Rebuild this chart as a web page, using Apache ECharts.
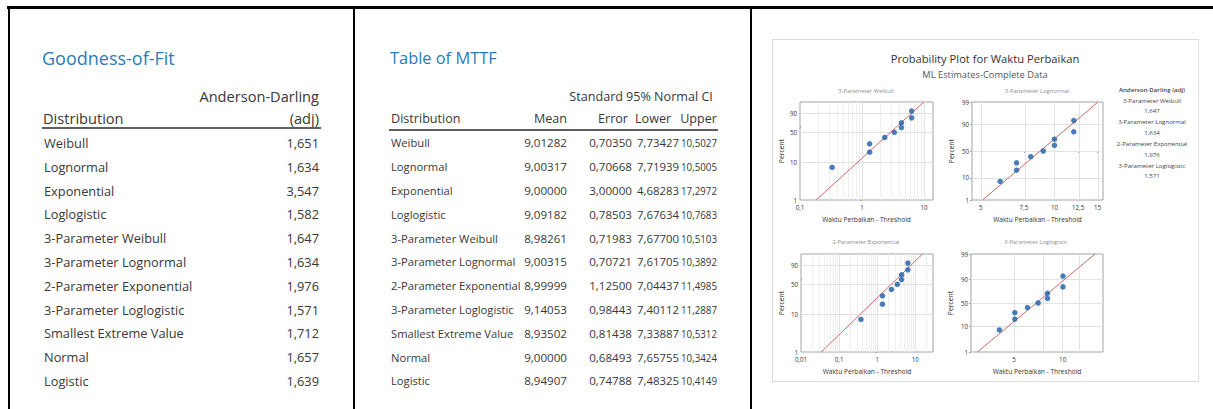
<!DOCTYPE html>
<html>
<head>
<meta charset="utf-8">
<script src="https://cdn.jsdelivr.net/npm/echarts@6/dist/echarts.min.js"></script>
<style>
  html, body { margin: 0; padding: 0; background: #fff; }
  #page { position: relative; width: 1213px; height: 409px; overflow: hidden;
          font-family: 'Open Sans', 'Noto Sans', sans-serif; color: #383838; }
  .rule { position: absolute; background: #000; }
  .uline { position: absolute; background: #5f5f5f; height: 2px; }
  .t { position: absolute; white-space: nowrap; line-height: 1; }
  #panel { position: absolute; left: 772px; top: 39px; width: 425px; height: 341px;
           border: 1px solid #dcdcdc; }
  #chart { position: absolute; left: 0; top: 0; width: 1213px; height: 409px; }
</style>
</head>
<body>
<div id="page">
  <div class="rule" style="left:7px;top:6px;width:1206px;height:2.5px"></div>
  <div class="rule" style="left:7.5px;top:6px;width:2.5px;height:403px"></div>
  <div class="rule" style="left:352.5px;top:6px;width:2.5px;height:403px"></div>
  <div class="rule" style="left:749.5px;top:6px;width:2.5px;height:403px"></div>
  <div id="panel"></div>
  <div id="chart"></div>
</div>
<script>
// ---------- Goodness-of-Fit table ----------
const distributions = ['Weibull', 'Lognormal', 'Exponential', 'Loglogistic',
  '3-Parameter Weibull', '3-Parameter Lognormal', '2-Parameter Exponential',
  '3-Parameter Loglogistic', 'Smallest Extreme Value', 'Normal', 'Logistic'];
const andersonDarling = [1.651, 1.634, 3.547, 1.582, 1.647, 1.634, 1.976, 1.571, 1.712, 1.657, 1.639];

// ---------- Table of MTTF ----------
const mttfMean  = [9.01282, 9.00317, 9.00000, 9.09182, 8.98261, 9.00315, 8.99999, 9.14053, 8.93502, 9.00000, 8.94907];
const mttfError = [0.70350, 0.70668, 3.00000, 0.78503, 0.71983, 0.70721, 1.12500, 0.98443, 0.81438, 0.68493, 0.74788];
const mttfLower = [7.73427, 7.71939, 4.68283, 7.67634, 7.67700, 7.61705, 7.04437, 7.40112, 7.33887, 7.65755, 7.48325];
const mttfUpper = [10.5027, 10.5005, 17.2972, 10.7683, 10.5103, 10.3892, 11.4985, 11.2887, 10.5312, 10.3424, 10.4149];

// ---------- Probability plot ----------
const repairTimes = [6, 7, 7, 8, 9, 10, 10, 12, 12];
const plotPercent = [7.4, 18.1, 28.7, 39.4, 50.0, 60.6, 71.3, 81.9, 92.6];
const panelTitles = ['3-Parameter Weibull', '3-Parameter Lognormal', '2-Parameter Exponential', '3-Parameter Loglogistic'];
const panelThreshold = [5.67, 0, 5.625, 1.95];
const panelScale = ['weibull', 'normal', 'weibull', 'logistic'];
const panelAD = [1.647, 1.634, 1.976, 1.571];
// fitted line end points: [time - threshold, percent]
const fitWeibull     = [[0.182, 1], [9.98, 99]];
const fitLognormal   = [[5.08, 1], [15.07, 99]];
const fitExponential = [[0.0339, 1], [15.54, 99]];
const fitLoglogistic = [[2.96, 1], [15.9, 99]];
const fitLines = [fitWeibull, fitLognormal, fitExponential, fitLoglogistic];
// axis extents and ticks
const xExtent = [[0.1, 14], [4.6, 15.8], [0.01, 29.2], [2.7, 17.8]];
const xTickLabels = [[0.1, 1, 10], [5, 7.5, 10, 12.5, 15], [0.01, 0.1, 1, 10], [5, 10]];
const xGridMajor = [[1, 10], [5, 7.5, 10, 12.5, 15], [0.1, 1, 10], [5, 7.5, 10, 12.5]];
const xGridMinor = [
  [0.2, 0.3, 0.4, 0.5, 0.6, 0.7, 0.8, 0.9, 2, 3, 4, 5, 6, 7, 8, 9],
  [],
  [0.02, 0.03, 0.04, 0.05, 0.06, 0.07, 0.08, 0.09, 0.2, 0.3, 0.4, 0.5, 0.6, 0.7, 0.8, 0.9, 2, 3, 4, 5, 6, 7, 8, 9, 20],
  []
];
const yExtent = [1, 99];
const yTickLabels = [[1, 10, 50, 90], [1, 10, 50, 90, 99], [1, 10, 50, 90], [1, 10, 50, 90, 99]];
const yGridLines = [10, 50, 90];

const fmt = (v, d) => v.toFixed(d).replace('.', ',');
const page = document.getElementById('page');
function put(text, x, y, opts) {
  const o = Object.assign({ align: 'left', size: 13, color: '#383838', weight: 400, fit: 0 }, opts || {});
  const el = document.createElement('div');
  el.className = 't';
  el.textContent = text;
  el.style.left = x + 'px';
  el.style.top = y + 'px';
  el.style.fontSize = o.size + 'px';
  el.style.color = o.color;
  el.style.fontWeight = o.weight;
  page.appendChild(el);
  let tf = 'translate(' + (o.align === 'right' ? '-100%' : '0') + ',-50%)';
  if (o.fit) {
    const w = el.getBoundingClientRect().width;
    if (w > o.fit) {
      el.style.transformOrigin = (o.align === 'right' ? 'right' : 'left') + ' center';
      tf += ' scaleX(' + (o.fit / w).toFixed(4) + ')';
    }
  }
  el.style.transform = tf;
}
function uline(x1, x2, y) {
  const el = document.createElement('div');
  el.className = 'uline';
  el.style.left = x1 + 'px'; el.style.width = (x2 - x1) + 'px'; el.style.top = y + 'px';
  page.appendChild(el);
}

// Goodness-of-Fit
const blue = '#2b7bbb';
put('Goodness-of-Fit', 42, 58, { size: 18, color: blue });
put('Anderson-Darling', 319, 96, { align: 'right', size: 14.6 });
put('Distribution', 43, 118, { size: 14.6 });
put('(adj)', 319, 118, { align: 'right', size: 14.6 });
uline(42, 321, 127);
distributions.forEach((d, i) => {
  const y = 143 + i * 23.8;
  put(d, 44, y, { size: 12.8 });
  put(fmt(andersonDarling[i], 3), 319, y, { align: 'right', size: 12.8 });
});

// Table of MTTF
put('Table of MTTF', 390, 58, { size: 16.4, color: blue });
put('Standard', 623, 97, { align: 'right', size: 12.6 });
put('95% Normal CI', 626, 97, { size: 12.6, fit: 90 });
put('Distribution', 391, 119.3, { size: 12.6 });
put('Mean', 567, 119.3, { align: 'right', size: 12.6 });
put('Error', 628, 119.3, { align: 'right', size: 12.6 });
put('Lower', 635, 119.3, { size: 12.6 });
put('Upper', 717, 119.3, { align: 'right', size: 12.6 });
uline(389, 718, 128.5);
distributions.forEach((d, i) => {
  const y = 143.3 + i * 23.8;
  put(d, 391, y, { size: 11.2 });
  put(fmt(mttfMean[i], 5), 567, y, { align: 'right', size: 11.6, fit: 43 });
  put(fmt(mttfError[i], 5), 632, y, { align: 'right', size: 11.6, fit: 43 });
  put(fmt(mttfLower[i], 5), 679, y, { align: 'right', size: 11.6, fit: 42 });
  put(fmt(mttfUpper[i], 4), 717, y, { align: 'right', size: 11.6, fit: 36 });
});

// ---------- probability scales ----------
function normInv(p) {
  const a = [-3.969683028665376e+01, 2.209460984245205e+02, -2.759285104469687e+02, 1.383577518672690e+02, -3.066479806614716e+01, 2.506628277459239e+00];
  const b = [-5.447609879822406e+01, 1.615858368580409e+02, -1.556989798598866e+02, 6.680131188771972e+01, -1.328068155288572e+01];
  const c = [-7.784894002430293e-03, -3.223964580411365e-01, -2.400758277161838e+00, -2.549732539343734e+00, 4.374664141464968e+00, 2.938163982698783e+00];
  const d = [7.784695709041462e-03, 3.224671290700398e-01, 2.445134137142996e+00, 3.754408661907416e+00];
  const pl = 0.02425;
  let q, r;
  if (p < pl) {
    q = Math.sqrt(-2 * Math.log(p));
    return (((((c[0] * q + c[1]) * q + c[2]) * q + c[3]) * q + c[4]) * q + c[5]) / ((((d[0] * q + d[1]) * q + d[2]) * q + d[3]) * q + 1);
  }
  if (p > 1 - pl) {
    q = Math.sqrt(-2 * Math.log(1 - p));
    return -(((((c[0] * q + c[1]) * q + c[2]) * q + c[3]) * q + c[4]) * q + c[5]) / ((((d[0] * q + d[1]) * q + d[2]) * q + d[3]) * q + 1);
  }
  q = p - 0.5; r = q * q;
  return (((((a[0] * r + a[1]) * r + a[2]) * r + a[3]) * r + a[4]) * r + a[5]) * q / (((((b[0] * r + b[1]) * r + b[2]) * r + b[3]) * r + b[4]) * r + 1);
}
const probScale = {
  weibull: p => Math.log(-Math.log(1 - p / 100)),
  normal: p => normInv(p / 100),
  logistic: p => Math.log(p / (100 - p))
};
const lx = v => Math.log10(v);
const labelOf = (val, ticks, f, show) => {
  const t = ticks.find(k => Math.abs(f(k) - val) < 1e-6);
  return t === undefined ? '' : show(t);
};

// ---------- layout of the four plots ----------
const gridBoxes = [
  { left: 800, top: 102, width: 133, height: 98 },
  { left: 972, top: 102, width: 131, height: 98 },
  { left: 801, top: 254, width: 132, height: 98 },
  { left: 971, top: 254, width: 132, height: 98 }
];
const yNameGap = [15, 17, 16, 17];

const font = "'Open Sans', 'Noto Sans', sans-serif";
const grids = [], xAxes = [], yAxes = [], series = [];
gridBoxes.forEach((g, k) => {
  const fy = probScale[panelScale[k]];
  grids.push(Object.assign({ show: true, borderColor: '#a3a3a3', borderWidth: 1,
    backgroundColor: 'transparent', containLabel: false, outerBoundsMode: 'none' }, g));
  const xVals = xTickLabels[k].map(lx);
  xAxes.push({
    type: 'value', gridIndex: k, min: lx(xExtent[k][0]), max: lx(xExtent[k][1]),
    name: 'Waktu Perbaikan - Threshold', nameLocation: 'middle', nameGap: 16, nameMoveOverlap: false,
    nameTextStyle: { fontSize: 6.6, color: '#333', fontFamily: font },
    axisLine: { show: false }, splitLine: { show: false },
    axisTick: { show: true, customValues: xVals, length: 2, lineStyle: { color: '#a3a3a3' } },
    axisLabel: { customValues: xVals, fontSize: 6.2, color: '#333', fontFamily: font, margin: 4,
      formatter: v => labelOf(v, xTickLabels[k], lx, t => String(t).replace('.', ',')) }
  });
  const yVals = yTickLabels[k].map(fy);
  yAxes.push({
    type: 'value', gridIndex: k, min: fy(yExtent[0]), max: fy(yExtent[1]),
    name: 'Percent', nameLocation: 'middle', nameGap: yNameGap[k], nameMoveOverlap: false,
    nameTextStyle: { fontSize: 6.8, color: '#333', fontFamily: font },
    axisLine: { show: false }, splitLine: { show: false },
    axisTick: { show: true, customValues: yVals, length: 2, lineStyle: { color: '#a3a3a3' } },
    axisLabel: { customValues: yVals, fontSize: 6.2, color: '#333', fontFamily: font, margin: 3,
      formatter: v => labelOf(v, yTickLabels[k], fy, t => String(t)) }
  });

  const gridLineData = []
    .concat(xGridMinor[k].map(v => ({ xAxis: lx(v), lineStyle: { color: '#efefef', width: 1, type: 'solid' } })))
    .concat(xGridMajor[k].map(v => ({ xAxis: lx(v), lineStyle: { color: '#e2e2e2', width: 1, type: 'solid' } })))
    .concat(yGridLines.map(p => ({ yAxis: fy(p), lineStyle: { color: '#e2e2e2', width: 1, type: 'solid' } })));

  series.push({
    type: 'line', xAxisIndex: k, yAxisIndex: k, z: 3,
    data: fitLines[k].map(([x, p]) => [lx(x), fy(p)]),
    symbol: 'none', lineStyle: { color: '#cc6b66', width: 1 },
    silent: true,
    markLine: { silent: true, symbol: ['none', 'none'], label: { show: false }, z: 1,
      animation: false, data: gridLineData }
  });
  series.push({
    type: 'scatter', xAxisIndex: k, yAxisIndex: k, z: 4,
    data: repairTimes.map((t, i) => [lx(t - panelThreshold[k]), fy(plotPercent[i])]),
    symbol: 'circle', symbolSize: 5.5, itemStyle: { color: '#1a5ca9' }, silent: true
  });
});

// titles and goodness-of-fit summary
const txt = (text, x, y, size, fill, weight) => ({
  type: 'text', x: x, y: y, silent: true,
  style: { text: text, fill: fill, fontSize: size, fontFamily: font, fontWeight: weight || 'normal',
           textAlign: 'center', textVerticalAlign: 'middle' }
});
const graphics = [
  txt('Probability Plot for Waktu Perbaikan', 985, 58, 11.2, '#333'),
  txt('ML Estimates-Complete Data', 985, 74, 9.3, '#555'),
  txt(panelTitles[0], 866, 90.5, 5.8, '#8c8c8c'),
  txt(panelTitles[1], 1037, 90.5, 5.8, '#8c8c8c'),
  txt(panelTitles[2], 866, 241.5, 5.8, '#8c8c8c'),
  txt(panelTitles[3], 1036, 241.5, 5.8, '#8c8c8c'),
  txt('Anderson-Darling (adj)', 1152, 89, 6.1, '#444', 600)
];
panelTitles.forEach((name, i) => {
  graphics.push(txt(name, 1152, 100 + i * 21.7, 6.1, '#444'));
  graphics.push(txt(fmt(panelAD[i], 3), 1152, 110.8 + i * 21.7, 6.1, '#444'));
});

const chart = echarts.init(document.getElementById('chart'), null, { renderer: 'svg' });
chart.setOption({
  animation: false,
  grid: grids,
  xAxis: xAxes,
  yAxis: yAxes,
  series: series,
  graphic: graphics
});
</script>
</body>
</html>
